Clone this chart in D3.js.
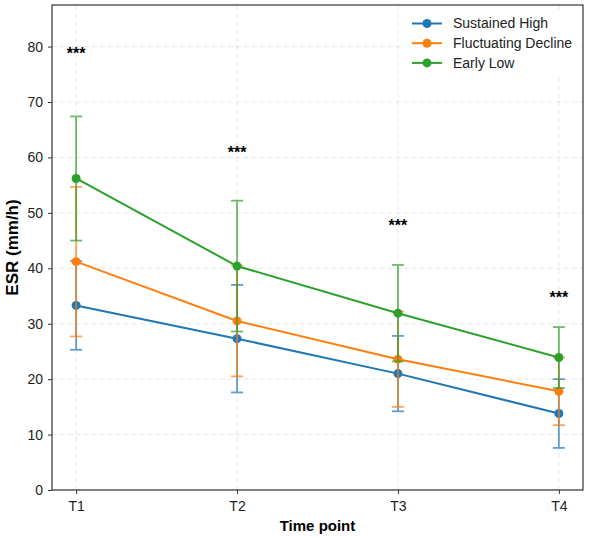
<!DOCTYPE html>
<html>
<head>
<meta charset="utf-8">
<script src="https://cdn.jsdelivr.net/npm/d3@7"></script>
<style>
body { margin: 0; background: #fff; }
text { font-family: "Liberation Sans", Arial, sans-serif; }
</style>
</head>
<body>
<div id="chart"></div>
<script>
var timePoints = ["T1", "T2", "T3", "T4"];
var seriesNames = ["Sustained High", "Fluctuating Decline", "Early Low"];
var sustainedMean = [33.3, 27.3, 21.0, 13.8];
var sustainedSd = [8.0, 9.7, 6.8, 6.2];
var fluctMean = [41.2, 30.5, 23.6, 17.8];
var fluctSd = [13.5, 10.0, 8.6, 6.1];
var earlyMean = [56.2, 40.4, 31.9, 23.9];
var earlySd = [11.2, 11.8, 8.7, 5.5];
var sigLabels = ["***", "***", "***", "***"];
var sigY = [79.3, 61.5, 48.3, 35.3];
var yTicks = [0, 10, 20, 30, 40, 50, 60, 70, 80];
var colors = ["#1f77b4", "#ff7f0e", "#2ca02c"];

var series = [
  {name: seriesNames[0], mean: sustainedMean, sd: sustainedSd, color: colors[0]},
  {name: seriesNames[1], mean: fluctMean, sd: fluctSd, color: colors[1]},
  {name: seriesNames[2], mean: earlyMean, sd: earlySd, color: colors[2]}
];

var svg = d3.select("#chart").append("svg")
    .attr("width", 590)
    .attr("height", 537),
    margin = {top: 5, right: 7, bottom: 47, left: 52},
    width = +svg.attr("width") - margin.left - margin.right,
    height = +svg.attr("height") - margin.top - margin.bottom;

var x = d3.scaleLinear().domain([-0.15, 3.15]).range([0, width]);
var y = d3.scaleLinear().domain([0, 87.5]).range([height, 0]);

var g = svg.append("g")
    .attr("transform", "translate(" + margin.left + "," + margin.top + ")");

// grid
g.append("g").selectAll("line.hgrid")
    .data(yTicks)
  .enter().append("line")
    .attr("x1", 0).attr("x2", width)
    .attr("y1", function(d) { return y(d); })
    .attr("y2", function(d) { return y(d); })
    .attr("stroke", "#b0b0b0").attr("stroke-opacity", 0.35)
    .attr("stroke-dasharray", "5,3").attr("stroke-width", 0.9);

g.append("g").selectAll("line.vgrid")
    .data(timePoints)
  .enter().append("line")
    .attr("y1", 0).attr("y2", height)
    .attr("x1", function(d, i) { return x(i); })
    .attr("x2", function(d, i) { return x(i); })
    .attr("stroke", "#b0b0b0").attr("stroke-opacity", 0.35)
    .attr("stroke-dasharray", "5,3").attr("stroke-width", 0.9);

// axes
var xAxis = g.append("g")
    .attr("transform", "translate(0," + height + ")")
    .call(d3.axisBottom(x).tickValues([0, 1, 2, 3]).tickFormat(function(d) { return timePoints[d]; }).tickSize(4).tickPadding(7));
var yAxis = g.append("g")
    .call(d3.axisLeft(y).tickValues(yTicks).tickSize(4).tickPadding(5));

[xAxis, yAxis].forEach(function(a) {
  a.select(".domain").remove();
  a.selectAll(".tick line").attr("stroke", "#333").attr("stroke-width", 1);
  a.selectAll(".tick text").attr("fill", "#222").style("font-size", "14px")
    .style("font-family", "'Liberation Sans', Arial, sans-serif");
});

// series
var line = d3.line()
    .x(function(d, i) { return x(i); })
    .y(function(d) { return y(d); });

series.forEach(function(s) {
  var eb = g.append("g").attr("opacity", 0.7);
  s.mean.forEach(function(m, i) {
    var lo = m - s.sd[i], hi = m + s.sd[i];
    eb.append("line")
      .attr("x1", x(i)).attr("x2", x(i))
      .attr("y1", y(lo)).attr("y2", y(hi))
      .attr("stroke", s.color).attr("stroke-width", 1.8);
    [lo, hi].forEach(function(v) {
      eb.append("line")
        .attr("x1", x(i) - 6).attr("x2", x(i) + 6)
        .attr("y1", y(v)).attr("y2", y(v))
        .attr("stroke", s.color).attr("stroke-width", 1.8);
    });
  });
  g.append("path")
    .datum(s.mean)
    .attr("fill", "none")
    .attr("stroke", s.color)
    .attr("stroke-width", 2)
    .attr("d", line);
  g.selectAll(null)
    .data(s.mean)
  .enter().append("circle")
    .attr("cx", function(d, i) { return x(i); })
    .attr("cy", function(d) { return y(d); })
    .attr("r", 4.5)
    .attr("fill", s.color);
});

// significance labels
g.selectAll(".sig")
    .data(sigLabels)
  .enter().append("text")
    .attr("class", "sig")
    .attr("x", function(d, i) { return x(i); })
    .attr("y", function(d, i) { return y(sigY[i]) + 9; })
    .attr("text-anchor", "middle")
    .style("font-size", "16px")
    .style("font-weight", "bold")
    .attr("fill", "#000")
    .text(function(d) { return d; });

// frame
g.append("rect")
    .attr("width", width).attr("height", height)
    .attr("fill", "none").attr("stroke", "#333").attr("stroke-width", 1.2);

// legend
var legend = g.append("g")
    .attr("transform", "translate(" + (width - 178) + ",8)");
legend.append("rect")
    .attr("width", 172).attr("height", 64)
    .attr("fill", "#fff").attr("fill-opacity", 0.85);
series.forEach(function(s, i) {
  var row = legend.append("g").attr("transform", "translate(0," + (10.5 + i * 19.7) + ")");
  row.append("line").attr("x1", 7).attr("x2", 37).attr("y1", 0).attr("y2", 0)
    .attr("stroke", s.color).attr("stroke-width", 2);
  row.append("circle").attr("cx", 22).attr("cy", 0).attr("r", 4.5).attr("fill", s.color);
  row.append("text").attr("x", 48).attr("y", 0).attr("dy", "0.35em")
    .style("font-size", "14px").attr("fill", "#222").text(s.name);
});

// axis labels
svg.append("text")
    .attr("x", margin.left + width / 2)
    .attr("y", 531)
    .attr("text-anchor", "middle")
    .style("font-size", "15px").style("font-weight", "bold")
    .text("Time point");
svg.append("text")
    .attr("transform", "translate(18," + (margin.top + height / 2) + ") rotate(-90)")
    .attr("text-anchor", "middle")
    .style("font-size", "17px").style("font-weight", "bold")
    .text("ESR (mm/h)");
</script>
</body>
</html>
